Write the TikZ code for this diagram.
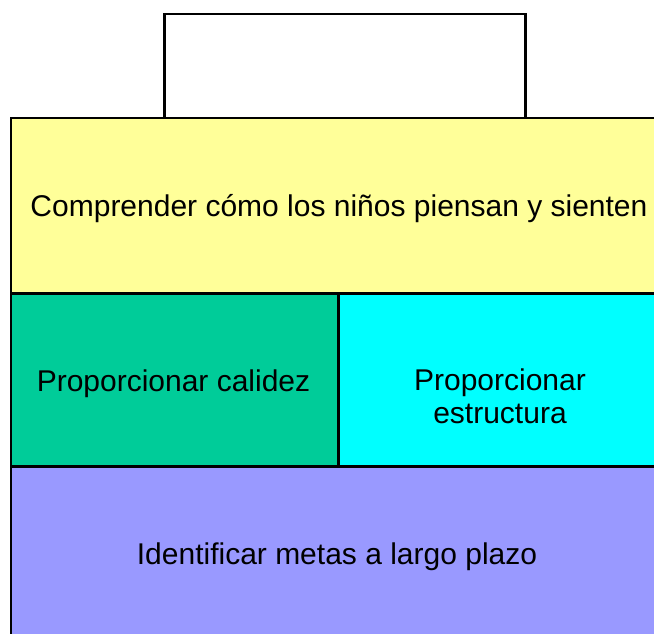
\documentclass[tikz,border=0pt]{standalone}
\usepackage{fontspec}
\setmainfont{Liberation Sans}
\begin{document}
\begin{tikzpicture}[x=1pt,y=-1pt,
  box/.style={draw=black, line width=2.5pt, rectangle, inner sep=0pt, anchor=north west},
  lbl/.style={inner sep=0pt, anchor=base, font=\fontsize{30}{33}\selectfont, align=center}]
\useasboundingbox (0,0) rectangle (654,634);
\clip (0,0) rectangle (654,634);
\fill[white] (0,0) rectangle (654,634);
\node[box, fill=white, minimum width=361pt, minimum height=104pt] (top) at (163,13) {};
\node[box, fill={rgb,255:red,255;green,255;blue,153}, minimum width=655pt, minimum height=175pt] (yellow) at (9.5,117) {};
\node[box, fill={rgb,255:red,0;green,204;blue,153}, minimum width=327.5pt, minimum height=173pt] (green) at (9.5,292) {};
\node[box, fill={rgb,255:red,0;green,255;blue,255}, minimum width=327.5pt, minimum height=173pt] (cyan) at (337,292) {};
\node[box, fill={rgb,255:red,153;green,153;blue,255}, minimum width=655pt, minimum height=177pt] (purple) at (9.5,465) {};
\node[lbl] (ytext) at (339,216) {Comprender cómo los niños piensan y sienten};
\node[lbl] (gtext) at (173.5,391) {Proporcionar calidez};
\node[lbl] (ctext) at (500,423) {Proporcionar\\estructura};
\node[lbl] (ptext) at (337,564) {Identificar metas a largo plazo};
\end{tikzpicture}
\end{document}
